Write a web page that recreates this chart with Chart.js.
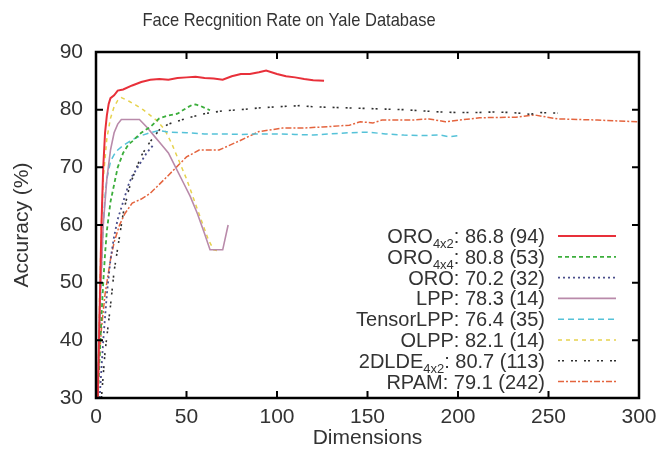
<!DOCTYPE html>
<html>
<head>
<meta charset="utf-8">
<script src="https://cdn.jsdelivr.net/npm/chart.js@4.4.1/dist/chart.umd.min.js"></script>
<style>
html, body { margin: 0; background: #fff; }
#wrap { width: 662px; height: 458px; }
</style>
</head>
<body>
<div id="wrap"><canvas id="chart"></canvas></div>
<script>
// Tick labels
const xTicks = [0, 50, 100, 150, 200, 250, 300];
const yTicks = [30, 40, 50, 60, 70, 80, 90];

// Series (dimension, accuracy %)
const oro4x2Dims = [1, 2, 3, 4, 5, 6, 7, 8, 10, 12, 15, 20, 25, 30, 35, 40, 45, 50, 55, 60, 65, 70, 75, 80, 85, 90, 94, 100, 105, 110, 115, 120, 126];
const oro4x2Acc = [30, 45, 60, 70, 76, 79, 81, 82, 82.5, 83.3, 83.5, 84.2, 84.8, 85.2, 85.3, 85.2, 85.5, 85.6, 85.7, 85.5, 85.4, 85.2, 85.8, 86.2, 86.2, 86.5, 86.8, 86.2, 85.8, 85.6, 85.3, 85.1, 85.0];

const oro4x4Dims = [1, 2, 3, 4, 5, 6, 8, 10, 12, 15, 18, 20, 25, 30, 35, 40, 45, 50, 53, 55, 58, 60, 63];
const oro4x4Acc = [30, 37, 44, 50, 55, 59, 64, 67, 70, 72.5, 74, 74.5, 76, 77, 78.5, 79, 79.3, 80.3, 80.8, 80.9, 80.6, 80.3, 79.9];

const oroDims = [2, 4, 6, 8, 10, 12, 15, 18, 20, 24, 28, 32];
const oroAcc = [30, 40, 48, 54, 58, 61, 64, 67, 68.5, 70.5, 72.5, 74];

const lppDims = [1, 2, 4, 6, 8, 10, 12, 14, 17, 20, 24, 28, 32, 36, 40, 44, 48, 52, 56, 60, 63, 67, 70, 73];
const lppAcc = [30, 45, 60, 68, 73, 76, 77.5, 78.3, 78.3, 78.3, 78.3, 77, 75.5, 74, 72.5, 70, 67.5, 65, 62, 58.5, 55.7, 55.7, 55.7, 60];

const tensorDims = [1, 2, 3, 4, 5, 6, 8, 10, 12, 15, 20, 25, 30, 35, 40, 50, 60, 70, 80, 90, 100, 110, 120, 130, 140, 150, 160, 170, 180, 190, 195, 200];
const tensorAcc = [30, 42, 52, 60, 65, 68, 71, 72.2, 73, 73.8, 74.8, 75.5, 76, 76.4, 76.1, 76, 75.8, 75.8, 75.7, 75.8, 75.8, 75.7, 75.6, 75.8, 76, 76.1, 75.8, 75.6, 75.5, 75.6, 75.3, 75.5];

const olppDims = [1, 2, 3, 4, 6, 8, 10, 12, 14, 18, 22, 26, 30, 34, 38, 42, 46, 50, 54, 58, 62, 65, 68];
const olppAcc = [30, 48, 60, 68, 75, 78.5, 80.5, 81.6, 82.1, 81.5, 80.8, 80, 79, 78, 76.5, 74, 71, 68, 64.5, 61, 57.5, 55.7, 55.5];

const dldeDims = [3, 5, 8, 10, 12, 15, 18, 20, 25, 30, 35, 40, 50, 60, 70, 80, 90, 100, 113, 120, 130, 140, 150, 160, 170, 180, 190, 200, 210, 220, 230, 240, 245, 255];
const dldeAcc = [30, 38, 46, 52, 56, 62, 66, 68, 72, 74.5, 76.5, 77.5, 78.5, 79.3, 79.8, 80, 80.3, 80.5, 80.7, 80.5, 80.4, 80.3, 80.2, 80.1, 80, 79.8, 79.6, 79.5, 79.5, 79.6, 79.5, 79.2, 79.5, 79.4];

const rpamDims = [1, 3, 5, 8, 10, 13, 16, 20, 25, 30, 39, 50, 57, 68, 80, 90, 103, 114, 125, 140, 146, 153, 158, 175, 184, 193, 212, 232, 242, 255, 277, 299];
const rpamAcc = [33, 42, 48, 54, 57, 60, 62, 63.8, 64.5, 65.5, 68.3, 71.8, 73, 73, 74.7, 76.2, 76.8, 76.8, 77, 77.3, 77.9, 77.7, 78.2, 78.2, 78.4, 77.9, 78.6, 78.7, 79.1, 78.4, 78.2, 77.9];

// Legend text
const legendNames = ['ORO', 'ORO', 'ORO', 'LPP', 'TensorLPP', 'OLPP', '2DLDE', 'RPAM'];
const legendSubs = ['4x2', '4x4', '', '', '', '', '4x2', ''];
const bestAcc = ['86.8', '80.8', '70.2', '78.3', '76.4', '82.1', '80.7', '79.1'];
const bestDim = [94, 53, 32, 14, 35, 14, 113, 242];

const fontFamily = "'Liberation Sans', Arial, sans-serif";
const textColor = '#333';

function pts(xs, ys) {
    return xs.map((x, i) => ({ x: x, y: ys[i] }));
}

function line(data, color, dash, width) {
    return {
        data: data,
        borderColor: color,
        borderDash: dash,
        borderWidth: width,
        pointRadius: 0,
        tension: 0,
        fill: false
    };
}

const datasets = [
    line(pts(oro4x2Dims, oro4x2Acc), '#e8303a', [], 2),
    line(pts(oro4x4Dims, oro4x4Acc), '#3cae3c', [4, 3], 1.8),
    line(pts(oroDims, oroAcc), '#4b4f8c', [2, 3], 1.8),
    line(pts(lppDims, lppAcc), '#b98aaa', [], 1.6),
    line(pts(tensorDims, tensorAcc), '#55c2d8', [6, 4], 1.5),
    line(pts(olppDims, olppAcc), '#e6d24e', [4, 4], 1.5),
    line(pts(dldeDims, dldeAcc), '#2e2e2e', [2, 2, 2, 7], 1.6),
    line(pts(rpamDims, rpamAcc), '#e4643e', [6, 2, 2, 2], 1.5)
];

// Title, frame, inward ticks and legend with subscripts
const decorations = {
    id: 'decorations',
    afterDraw(chart) {
        const ctx = chart.ctx;
        const a = chart.chartArea;
        const xs = chart.scales.x;
        const ys = chart.scales.y;
        ctx.save();

        ctx.save();
        ctx.translate(289, 21);
        ctx.scale(1, 1.15);
        ctx.fillStyle = textColor;
        ctx.font = '16.5px ' + fontFamily;
        ctx.textAlign = 'center';
        ctx.textBaseline = 'middle';
        ctx.fillText('Face Recgnition Rate on Yale Database', 0, 0);
        ctx.restore();

        ctx.strokeStyle = '#000';
        ctx.lineWidth = 2.5;
        ctx.setLineDash([]);
        ctx.strokeRect(a.left, a.top, a.right - a.left, a.bottom - a.top);

        ctx.lineWidth = 2;
        ctx.beginPath();
        xTicks.forEach(v => {
            const px = xs.getPixelForValue(v);
            ctx.moveTo(px, a.bottom); ctx.lineTo(px, a.bottom - 7);
            ctx.moveTo(px, a.top); ctx.lineTo(px, a.top + 7);
        });
        yTicks.forEach(v => {
            const py = ys.getPixelForValue(v);
            ctx.moveTo(a.left, py); ctx.lineTo(a.left + 7, py);
            ctx.moveTo(a.right, py); ctx.lineTo(a.right - 7, py);
        });
        ctx.stroke();

        const big = '20px ' + fontFamily;
        const small = '13px ' + fontFamily;
        ctx.textAlign = 'left';
        ctx.textBaseline = 'alphabetic';
        legendNames.forEach((name, i) => {
            const y = 236 + i * 20.8;
            const rest = ': ' + bestAcc[i] + ' (' + bestDim[i] + ')';
            ctx.font = big;
            const w1 = ctx.measureText(name).width;
            const w3 = ctx.measureText(rest).width;
            ctx.font = small;
            const w2 = legendSubs[i] ? ctx.measureText(legendSubs[i]).width : 0;
            let x = 545 - (w1 + w2 + w3);
            ctx.fillStyle = textColor;
            ctx.font = big;
            ctx.fillText(name, x, y + 7);
            x += w1;
            if (legendSubs[i]) {
                ctx.font = small;
                ctx.fillText(legendSubs[i], x, y + 12);
                x += w2;
            }
            ctx.font = big;
            ctx.fillText(rest, x, y + 7);

            const ds = chart.data.datasets[i];
            ctx.strokeStyle = ds.borderColor;
            ctx.lineWidth = ds.borderWidth;
            ctx.setLineDash(ds.borderDash);
            ctx.beginPath();
            ctx.moveTo(558, y);
            ctx.lineTo(616, y);
            ctx.stroke();
        });
        ctx.restore();
    }
};

new Chart(document.getElementById('chart'), {
    type: 'line',
    data: { datasets: datasets },
    options: {
        responsive: true,
        maintainAspectRatio: false,
        devicePixelRatio: 1,
        animation: false,
        layout: { padding: { top: 52, right: 23, left: 0, bottom: 0 } },
        plugins: {
            legend: { display: false },
            title: { display: false },
            tooltip: { enabled: false }
        },
        scales: {
            x: {
                type: 'linear',
                min: 0,
                max: 300,
                afterBuildTicks: s => { s.ticks = xTicks.map(v => ({ value: v })); },
                afterFit: s => { s.height = 60; s.paddingLeft = 0; s.paddingRight = 0; },
                grid: { display: false, drawTicks: false },
                border: { display: false },
                ticks: { padding: 7, color: textColor, font: { family: fontFamily, size: 21 } },
                title: {
                    display: true,
                    text: 'Dimensions',
                    color: textColor,
                    font: { family: fontFamily, size: 21 },
                    padding: { top: 0, bottom: 7 }
                }
            },
            y: {
                min: 30,
                max: 90,
                afterBuildTicks: s => { s.ticks = yTicks.map(v => ({ value: v })); },
                afterFit: s => { s.width = 96; s.paddingTop = 0; s.paddingBottom = 0; },
                grid: { display: false, drawTicks: false },
                border: { display: false },
                ticks: { padding: 13, color: textColor, font: { family: fontFamily, size: 21 } },
                title: {
                    display: true,
                    text: 'Accuracy (%)',
                    color: textColor,
                    font: { family: fontFamily, size: 21 },
                    padding: { top: 10, bottom: 0 }
                }
            }
        }
    },
    plugins: [decorations]
});
</script>
</body>
</html>
